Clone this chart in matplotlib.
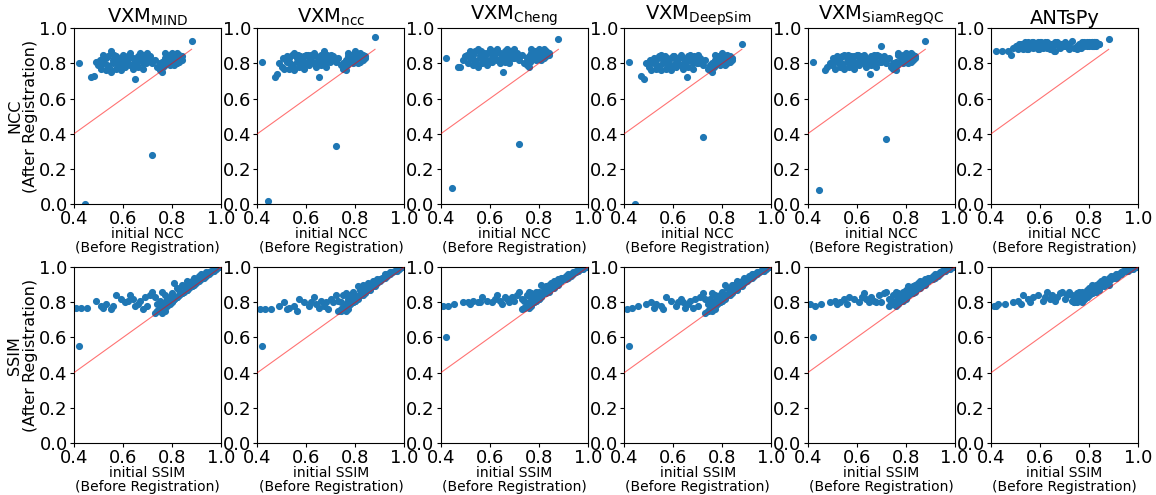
import matplotlib
matplotlib.use("Agg")
import matplotlib.pyplot as plt
import numpy as np

methods = ["VXM$_{\\mathrm{MIND}}$", "VXM$_{\\mathrm{ncc}}$", "VXM$_{\\mathrm{Cheng}}$",
           "VXM$_{\\mathrm{DeepSim}}$", "VXM$_{\\mathrm{SiamRegQC}}$", "ANTsPy"]

# initial NCC (before registration), shared by all methods
ncc_init = [0.42, 0.445, 0.47, 0.48, 0.49, 0.50, 0.51, 0.52, 0.52, 0.53,
            0.53, 0.54, 0.54, 0.55, 0.55, 0.56, 0.56, 0.57, 0.57, 0.58,
            0.58, 0.59, 0.59, 0.60, 0.60, 0.61, 0.61, 0.62, 0.62, 0.63,
            0.63, 0.64, 0.64, 0.65, 0.65, 0.66, 0.66, 0.67, 0.67, 0.68,
            0.68, 0.69, 0.70, 0.70, 0.71, 0.72, 0.72, 0.73, 0.74, 0.75,
            0.75, 0.76, 0.76, 0.77, 0.77, 0.77, 0.78, 0.78, 0.78, 0.79,
            0.79, 0.79, 0.80, 0.80, 0.80, 0.80, 0.81, 0.81, 0.81, 0.81,
            0.82, 0.82, 0.82, 0.82, 0.83, 0.83, 0.83, 0.84, 0.84, 0.88,
            0.505, 0.535, 0.565, 0.595, 0.625, 0.655, 0.685, 0.715, 0.765, 0.805,
            0.515, 0.545, 0.575, 0.605, 0.635, 0.665, 0.695, 0.795, 0.815, 0.825]

ncc_mind = [0.80, 0.00, 0.72, 0.73, 0.81, 0.79, 0.77, 0.85, 0.80, 0.76,
            0.83, 0.78, 0.84, 0.75, 0.87, 0.80, 0.82, 0.77, 0.84, 0.79,
            0.81, 0.76, 0.83, 0.80, 0.85, 0.82, 0.78, 0.84, 0.80, 0.86,
            0.79, 0.83, 0.77, 0.71, 0.81, 0.84, 0.78, 0.82, 0.86, 0.80,
            0.77, 0.83, 0.86, 0.81, 0.84, 0.28, 0.80, 0.82, 0.78, 0.80,
            0.76, 0.75, 0.81, 0.79, 0.83, 0.86, 0.80, 0.82, 0.84, 0.81,
            0.79, 0.85, 0.82, 0.80, 0.84, 0.86, 0.81, 0.83, 0.79, 0.85,
            0.82, 0.84, 0.80, 0.86, 0.83, 0.81, 0.85, 0.84, 0.82, 0.93,
            0.82, 0.79, 0.85, 0.78, 0.83, 0.80, 0.85, 0.82, 0.78, 0.83,
            0.81, 0.77, 0.83, 0.84, 0.79, 0.82, 0.80, 0.82, 0.80, 0.84]

ncc_ncc = [0.81, 0.02, 0.72, 0.74, 0.80, 0.78, 0.77, 0.84, 0.81, 0.77,
           0.83, 0.79, 0.85, 0.76, 0.86, 0.81, 0.83, 0.78, 0.84, 0.80,
           0.82, 0.77, 0.84, 0.80, 0.85, 0.83, 0.79, 0.85, 0.81, 0.86,
           0.80, 0.84, 0.78, 0.72, 0.82, 0.85, 0.79, 0.83, 0.87, 0.81,
           0.78, 0.84, 0.85, 0.82, 0.84, 0.33, 0.81, 0.83, 0.79, 0.80,
           0.77, 0.76, 0.82, 0.80, 0.84, 0.86, 0.81, 0.83, 0.85, 0.82,
           0.80, 0.85, 0.83, 0.81, 0.84, 0.87, 0.82, 0.84, 0.80, 0.85,
           0.83, 0.85, 0.81, 0.86, 0.84, 0.82, 0.85, 0.84, 0.83, 0.95,
           0.83, 0.80, 0.85, 0.79, 0.84, 0.81, 0.85, 0.82, 0.79, 0.84,
           0.82, 0.78, 0.84, 0.85, 0.80, 0.83, 0.81, 0.83, 0.81, 0.84]

ncc_cheng = [0.83, 0.09, 0.78, 0.78, 0.82, 0.84, 0.80, 0.87, 0.83, 0.79,
             0.85, 0.81, 0.87, 0.78, 0.88, 0.83, 0.85, 0.80, 0.86, 0.82,
             0.84, 0.79, 0.86, 0.82, 0.88, 0.85, 0.81, 0.87, 0.83, 0.88,
             0.82, 0.86, 0.80, 0.84, 0.83, 0.87, 0.81, 0.85, 0.88, 0.83,
             0.80, 0.86, 0.88, 0.83, 0.86, 0.34, 0.82, 0.85, 0.80, 0.83,
             0.79, 0.78, 0.84, 0.82, 0.86, 0.88, 0.83, 0.85, 0.87, 0.84,
             0.82, 0.87, 0.85, 0.83, 0.86, 0.88, 0.84, 0.86, 0.82, 0.87,
             0.85, 0.87, 0.83, 0.88, 0.86, 0.84, 0.87, 0.86, 0.85, 0.94,
             0.85, 0.82, 0.87, 0.81, 0.86, 0.75, 0.87, 0.84, 0.81, 0.86,
             0.84, 0.80, 0.86, 0.87, 0.82, 0.85, 0.83, 0.85, 0.83, 0.86]

ncc_deepsim = [0.81, 0.00, 0.73, 0.71, 0.80, 0.78, 0.76, 0.83, 0.80, 0.77,
               0.82, 0.78, 0.84, 0.76, 0.85, 0.80, 0.82, 0.77, 0.83, 0.79,
               0.81, 0.76, 0.83, 0.79, 0.84, 0.82, 0.78, 0.83, 0.80, 0.85,
               0.79, 0.83, 0.77, 0.81, 0.80, 0.84, 0.78, 0.82, 0.85, 0.80,
               0.77, 0.83, 0.85, 0.80, 0.83, 0.38, 0.79, 0.82, 0.77, 0.79,
               0.76, 0.75, 0.80, 0.79, 0.82, 0.85, 0.80, 0.82, 0.84, 0.81,
               0.79, 0.84, 0.82, 0.80, 0.83, 0.86, 0.81, 0.83, 0.79, 0.84,
               0.82, 0.84, 0.80, 0.85, 0.83, 0.81, 0.84, 0.83, 0.82, 0.91,
               0.82, 0.79, 0.84, 0.78, 0.83, 0.72, 0.84, 0.81, 0.78, 0.83,
               0.81, 0.77, 0.83, 0.84, 0.79, 0.82, 0.80, 0.82, 0.80, 0.83]

ncc_siam = [0.81, 0.08, 0.76, 0.78, 0.80, 0.79, 0.77, 0.84, 0.81, 0.78,
            0.83, 0.79, 0.84, 0.77, 0.85, 0.81, 0.83, 0.78, 0.84, 0.80,
            0.82, 0.77, 0.84, 0.80, 0.85, 0.82, 0.79, 0.84, 0.81, 0.85,
            0.80, 0.83, 0.78, 0.82, 0.81, 0.84, 0.79, 0.83, 0.85, 0.81,
            0.78, 0.84, 0.90, 0.81, 0.84, 0.37, 0.80, 0.83, 0.78, 0.80,
            0.77, 0.76, 0.81, 0.80, 0.86, 0.85, 0.81, 0.83, 0.84, 0.82,
            0.80, 0.85, 0.83, 0.81, 0.84, 0.86, 0.82, 0.84, 0.80, 0.85,
            0.83, 0.85, 0.81, 0.86, 0.84, 0.82, 0.85, 0.84, 0.83, 0.93,
            0.83, 0.80, 0.85, 0.79, 0.84, 0.74, 0.85, 0.82, 0.79, 0.84,
            0.82, 0.78, 0.84, 0.85, 0.80, 0.83, 0.81, 0.83, 0.81, 0.84]

ncc_ants = [0.87, 0.87, 0.87, 0.85, 0.89, 0.90, 0.88, 0.91, 0.89, 0.88,
            0.91, 0.89, 0.92, 0.88, 0.92, 0.90, 0.91, 0.89, 0.92, 0.90,
            0.91, 0.88, 0.92, 0.90, 0.92, 0.91, 0.89, 0.92, 0.90, 0.92,
            0.89, 0.91, 0.88, 0.90, 0.91, 0.92, 0.87, 0.91, 0.92, 0.90,
            0.89, 0.91, 0.92, 0.90, 0.91, 0.88, 0.90, 0.93, 0.89, 0.90,
            0.88, 0.89, 0.91, 0.90, 0.92, 0.91, 0.90, 0.91, 0.92, 0.91,
            0.90, 0.92, 0.91, 0.90, 0.92, 0.91, 0.91, 0.92, 0.90, 0.92,
            0.91, 0.92, 0.90, 0.92, 0.91, 0.90, 0.92, 0.91, 0.91, 0.94,
            0.90, 0.89, 0.92, 0.88, 0.91, 0.87, 0.91, 0.90, 0.89, 0.91,
            0.91, 0.88, 0.91, 0.92, 0.89, 0.91, 0.90, 0.91, 0.90, 0.92]

# initial SSIM (before registration), shared by all methods
ssim_init = [0.41, 0.42, 0.43, 0.455, 0.49, 0.51, 0.52, 0.53, 0.55, 0.56,
             0.57, 0.59, 0.61, 0.62, 0.63, 0.64, 0.65, 0.66, 0.67, 0.68,
             0.69, 0.70, 0.71, 0.72, 0.73, 0.73, 0.74, 0.74, 0.75, 0.75,
             0.75, 0.76, 0.76, 0.76, 0.76, 0.77, 0.77, 0.77, 0.77, 0.78,
             0.78, 0.78, 0.78, 0.79, 0.79, 0.79, 0.80, 0.80, 0.80, 0.81,
             0.81, 0.81, 0.82, 0.82, 0.82, 0.83, 0.83, 0.84, 0.84, 0.85,
             0.85, 0.86, 0.86, 0.87, 0.87, 0.88, 0.88, 0.89, 0.89, 0.90,
             0.90, 0.91, 0.91, 0.92, 0.92, 0.93, 0.93, 0.94, 0.94, 0.95,
             0.95, 0.96, 0.96, 0.97, 0.97, 0.98, 0.98, 0.99, 0.99, 1.00,
             0.74, 0.76, 0.78, 0.79, 0.80, 0.81, 0.83, 0.84, 0.86, 0.88]

ssim_mind = [0.77, 0.55, 0.77, 0.77, 0.81, 0.78, 0.77, 0.79, 0.76, 0.78,
             0.84, 0.82, 0.80, 0.81, 0.84, 0.82, 0.78, 0.79, 0.81, 0.76,
             0.83, 0.78, 0.84, 0.86, 0.74, 0.83, 0.75, 0.79, 0.76, 0.81,
             0.76, 0.77, 0.86, 0.74, 0.78, 0.78, 0.80, 0.75, 0.84, 0.79,
             0.80, 0.82, 0.78, 0.80, 0.83, 0.79, 0.81, 0.85, 0.80, 0.82,
             0.91, 0.82, 0.83, 0.88, 0.83, 0.84, 0.87, 0.85, 0.90, 0.86,
             0.89, 0.87, 0.92, 0.88, 0.90, 0.89, 0.92, 0.90, 0.94, 0.91,
             0.92, 0.92, 0.95, 0.93, 0.96, 0.94, 0.95, 0.95, 0.97, 0.96,
             0.97, 0.97, 0.98, 0.98, 0.99, 0.99, 0.99, 1.00, 1.00, 1.00,
             0.75, 0.77, 0.79, 0.80, 0.81, 0.82, 0.84, 0.85, 0.87, 0.89]

ssim_ncc = [0.76, 0.55, 0.76, 0.76, 0.78, 0.80, 0.76, 0.77, 0.78, 0.75,
            0.82, 0.80, 0.78, 0.80, 0.83, 0.79, 0.77, 0.81, 0.78, 0.80,
            0.76, 0.82, 0.80, 0.84, 0.75, 0.81, 0.76, 0.80, 0.77, 0.84,
            0.77, 0.78, 0.85, 0.75, 0.79, 0.79, 0.82, 0.76, 0.80, 0.80,
            0.81, 0.84, 0.79, 0.81, 0.86, 0.80, 0.82, 0.84, 0.81, 0.83,
            0.89, 0.83, 0.84, 0.87, 0.84, 0.85, 0.90, 0.86, 0.88, 0.87,
            0.91, 0.88, 0.90, 0.89, 0.92, 0.90, 0.91, 0.91, 0.93, 0.92,
            0.93, 0.93, 0.94, 0.94, 0.96, 0.95, 0.96, 0.96, 0.97, 0.97,
            0.97, 0.98, 0.98, 0.98, 0.99, 0.99, 0.99, 1.00, 1.00, 1.00,
            0.75, 0.77, 0.79, 0.80, 0.81, 0.82, 0.84, 0.85, 0.87, 0.89]

ssim_cheng = [0.78, 0.60, 0.78, 0.79, 0.80, 0.80, 0.79, 0.81, 0.80, 0.80,
              0.83, 0.81, 0.80, 0.82, 0.84, 0.81, 0.79, 0.83, 0.82, 0.80,
              0.83, 0.81, 0.84, 0.86, 0.76, 0.82, 0.77, 0.81, 0.78, 0.84,
              0.78, 0.79, 0.86, 0.77, 0.80, 0.80, 0.83, 0.78, 0.85, 0.81,
              0.82, 0.84, 0.80, 0.82, 0.86, 0.81, 0.83, 0.86, 0.82, 0.84,
              0.90, 0.84, 0.85, 0.88, 0.85, 0.86, 0.89, 0.87, 0.90, 0.88,
              0.91, 0.89, 0.92, 0.90, 0.91, 0.91, 0.93, 0.92, 0.94, 0.93,
              0.94, 0.93, 0.95, 0.94, 0.96, 0.95, 0.96, 0.96, 0.97, 0.97,
              0.98, 0.98, 0.98, 0.99, 0.99, 0.99, 1.00, 1.00, 1.00, 1.00,
              0.77, 0.79, 0.80, 0.81, 0.82, 0.83, 0.85, 0.86, 0.88, 0.90]

ssim_deepsim = [0.76, 0.55, 0.77, 0.78, 0.79, 0.80, 0.77, 0.79, 0.78, 0.76,
                0.83, 0.81, 0.78, 0.80, 0.82, 0.80, 0.77, 0.79, 0.81, 0.77,
                0.82, 0.78, 0.83, 0.85, 0.74, 0.82, 0.75, 0.79, 0.76, 0.82,
                0.76, 0.77, 0.85, 0.75, 0.79, 0.78, 0.81, 0.76, 0.84, 0.80,
                0.80, 0.83, 0.79, 0.81, 0.84, 0.80, 0.82, 0.86, 0.81, 0.83,
                0.90, 0.83, 0.84, 0.88, 0.84, 0.85, 0.88, 0.86, 0.90, 0.87,
                0.90, 0.88, 0.92, 0.89, 0.91, 0.90, 0.92, 0.91, 0.94, 0.92,
                0.93, 0.93, 0.95, 0.94, 0.96, 0.95, 0.96, 0.96, 0.97, 0.97,
                0.97, 0.98, 0.98, 0.98, 0.99, 0.99, 0.99, 1.00, 1.00, 1.00,
                0.75, 0.77, 0.79, 0.80, 0.81, 0.82, 0.84, 0.85, 0.87, 0.89]

ssim_siam = [0.79, 0.60, 0.78, 0.79, 0.80, 0.81, 0.79, 0.80, 0.82, 0.79,
             0.83, 0.82, 0.80, 0.83, 0.85, 0.82, 0.80, 0.83, 0.81, 0.80,
             0.84, 0.80, 0.85, 0.86, 0.78, 0.82, 0.79, 0.81, 0.80, 0.84,
             0.79, 0.80, 0.86, 0.78, 0.81, 0.80, 0.83, 0.79, 0.85, 0.81,
             0.82, 0.84, 0.81, 0.82, 0.86, 0.81, 0.83, 0.87, 0.82, 0.84,
             0.89, 0.84, 0.85, 0.88, 0.85, 0.86, 0.89, 0.87, 0.90, 0.88,
             0.91, 0.89, 0.92, 0.90, 0.91, 0.91, 0.93, 0.92, 0.94, 0.93,
             0.94, 0.93, 0.95, 0.94, 0.96, 0.95, 0.96, 0.96, 0.97, 0.97,
             0.98, 0.98, 0.98, 0.99, 0.99, 0.99, 1.00, 1.00, 1.00, 1.00,
             0.79, 0.80, 0.81, 0.82, 0.83, 0.84, 0.85, 0.86, 0.88, 0.90]

ssim_ants = [0.78, 0.78, 0.79, 0.79, 0.80, 0.81, 0.79, 0.84, 0.82, 0.80,
             0.83, 0.84, 0.81, 0.83, 0.86, 0.82, 0.84, 0.81, 0.83, 0.85,
             0.86, 0.82, 0.84, 0.86, 0.81, 0.84, 0.80, 0.82, 0.81, 0.85,
             0.80, 0.82, 0.86, 0.81, 0.83, 0.82, 0.84, 0.80, 0.86, 0.82,
             0.83, 0.85, 0.82, 0.84, 0.87, 0.83, 0.85, 0.88, 0.84, 0.86,
             0.90, 0.85, 0.87, 0.89, 0.86, 0.88, 0.90, 0.88, 0.91, 0.89,
             0.92, 0.90, 0.93, 0.91, 0.92, 0.92, 0.94, 0.93, 0.95, 0.94,
             0.95, 0.94, 0.96, 0.95, 0.96, 0.96, 0.97, 0.97, 0.98, 0.98,
             0.98, 0.98, 0.99, 0.99, 0.99, 0.99, 1.00, 1.00, 1.00, 1.00,
             0.80, 0.81, 0.82, 0.83, 0.84, 0.85, 0.86, 0.87, 0.89, 0.90]

ncc_after = [ncc_mind, ncc_ncc, ncc_cheng, ncc_deepsim, ncc_siam, ncc_ants]
ssim_after = [ssim_mind, ssim_ncc, ssim_cheng, ssim_deepsim, ssim_siam, ssim_ants]

# identity reference line span
ncc_diag = [0.4, 0.88]
ssim_diag = [0.4, 1.0]

rows = [
    (ncc_init, ncc_after, ncc_diag, "initial NCC\n(Before Registration)", "NCC\n(After Registration)"),
    (ssim_init, ssim_after, ssim_diag, "initial SSIM\n(Before Registration)", "SSIM\n(After Registration)"),
]

fig, axes = plt.subplots(2, 6, figsize=(11.56, 4.95), dpi=100)
fig.subplots_adjust(left=0.064, right=0.9845, top=0.943, bottom=0.105,
                    wspace=0.248, hspace=0.358)

for r, (x0, after, diag, xlab, ylab) in enumerate(rows):
    for c in range(6):
        ax = axes[r, c]
        ax.scatter(x0, after[c], s=17, color="#1f77b4", zorder=2)
        ax.plot(diag, diag, color="red", alpha=0.55, linewidth=0.8, zorder=3)
        ax.set_xlim(0.4, 1.0)
        ax.set_ylim(0.0, 1.0)
        ax.set_xticks([0.4, 0.6, 0.8, 1.0])
        ax.set_yticks([0.0, 0.2, 0.4, 0.6, 0.8, 1.0])
        ax.tick_params(labelsize=13, length=3, pad=1.5)
        ax.set_xlabel(xlab, fontsize=10, linespacing=1.0, labelpad=-1)
        if c == 0:
            ax.set_ylabel(ylab, fontsize=11.5, linespacing=1.05, labelpad=1)
        if r == 0:
            ax.set_title(methods[c], fontsize=14, pad=2)

fig.savefig("out.png", dpi=100)
